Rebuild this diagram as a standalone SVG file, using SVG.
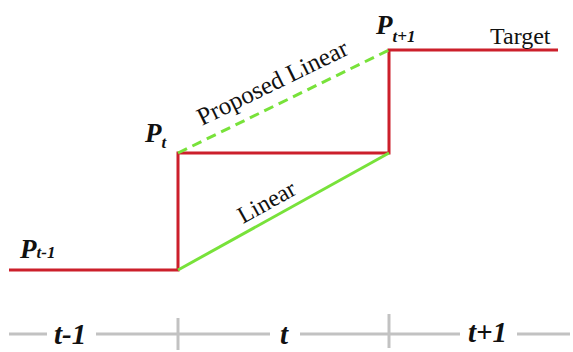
<svg xmlns="http://www.w3.org/2000/svg" width="573" height="352" viewBox="0 0 573 352">
<style>
.red{fill:none;stroke:#cc1f2b;stroke-width:3}
.grn{fill:none;stroke:#78e23a;stroke-width:3}
.dash{stroke-dasharray:10 6}
.ax{fill:none;stroke:#c2c2c2;stroke-width:3}
.lbl{font-family:"Liberation Serif",serif;fill:#111}
.p{font-weight:bold;font-style:italic;font-size:27px}
.sub{font-weight:bold;font-style:italic;font-size:17px}
.ti{font-weight:bold;font-style:italic;font-size:29px}
.t{font-size:24px}
</style>
<rect width="573" height="352" fill="#fff"/>
<g id="connectors">
<polyline class="red" points="9,270 178,270 178,153 389,153 389,50 558,50"/>
<line class="grn" x1="178" y1="270" x2="389" y2="153"/>
<line class="grn dash" x1="178" y1="153" x2="389" y2="50"/>
</g>
<g id="axis">
<line class="ax" x1="9" y1="334" x2="47" y2="334"/>
<line class="ax" x1="96" y1="334" x2="270" y2="334"/>
<line class="ax" x1="300" y1="334" x2="460" y2="334"/>
<line class="ax" x1="517" y1="334" x2="570" y2="334"/>
<line class="ax" x1="178" y1="318" x2="178" y2="350"/>
<line class="ax" x1="389" y1="314" x2="389" y2="348"/>
<text class="lbl ti" x="54" y="344">t-1</text>
<text class="lbl ti" x="280" y="344">t</text>
<text class="lbl ti" x="468" y="342">t+1</text>
</g>
<g id="p-prev"><text class="lbl p" x="20" y="258">P<tspan class="sub" dy="0">t-1</tspan></text></g>
<g id="p-t"><text class="lbl p" x="145" y="142">P<tspan class="sub" dy="6">t</tspan></text></g>
<g id="p-next"><text class="lbl p" x="376" y="34">P<tspan class="sub" dy="8">t+1</tspan></text></g>
<g id="target"><text class="lbl t" x="490" y="44">Target</text></g>
<g id="proposed"><text class="lbl t" style="font-size:25px" transform="translate(202,126) rotate(-26)">Proposed Linear</text></g>
<g id="linear"><text class="lbl t" transform="translate(243,224) rotate(-29)">Linear</text></g>
</svg>
